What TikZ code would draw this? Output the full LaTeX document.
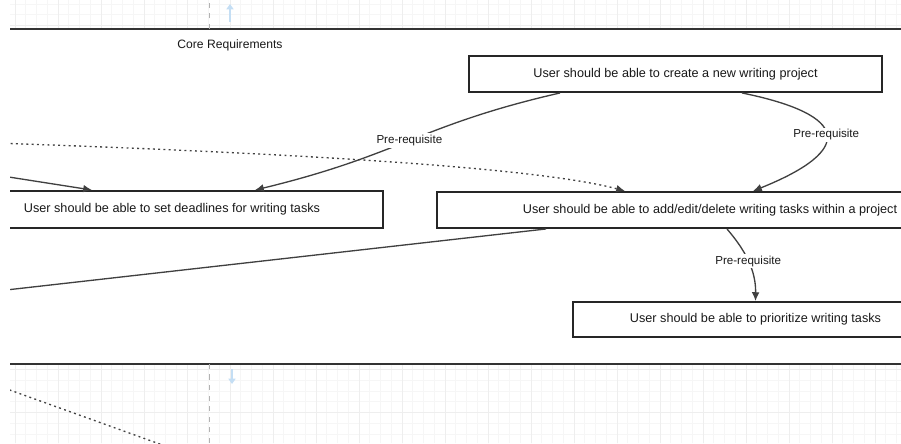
\documentclass[tikz,border=0pt]{standalone}
\usepackage{fontspec}
\setmainfont{Liberation Sans}
\usetikzlibrary{arrows.meta}
\definecolor{guideblue}{RGB}{196,222,244}

\begin{document}
\begin{tikzpicture}[
				>={Latex[length=5pt,width=4.4pt]},
				req/.style={
					rectangle,
					draw=black!85,
					line width=1.1pt,
					fill=white,
					align=center,
					minimum height=0.72cm,
					inner sep=0pt,
					text=black!90,
					font=\fontsize{7.2}{8.6}\selectfont
				},
				link/.style={
					->,
					draw=black!75,
					line width=0.75pt
				},
				dotlink/.style={
					link,
					dash pattern=on 1.1pt off 1.9pt
				},
				tag/.style={
					fill=white,
					inner sep=1pt,
					text=black!90,
					font=\fontsize{6.6}{8}\selectfont
				},
				lane/.style={
					draw=black!80,
					line width=1.3pt
				},
				gridfine/.style={
					draw=gray!7,
					line width=0.35pt
				},
				gridmajor/.style={
					draw=gray!13,
					line width=0.45pt
				}
				]
				
				\useasboundingbox (0,0) rectangle (18.02,8.86);
				\begin{scope}
				\clip (0.2,0) rectangle (18.02,8.86);
				
				% -------------------------------------------------------------------------
				% Canvas grid, lane and guides
				% -------------------------------------------------------------------------
				
				\begin{scope}
				\clip (0.2,0) rectangle (18.02,1.58) (0.2,8.28) rectangle (18.02,8.86);
				\draw[gridfine,step=0.215cm,shift={(0.3,0.61)}] (-1,-1) grid (18.5,9.2);
				\draw[gridmajor,step=0.86cm,shift={(0.3,0.61)}] (-1,-1) grid (18.5,9.2);
				\end{scope}
				
				\fill[white] (0.2,1.58) rectangle (18.02,8.28);
				\draw[lane] (0.2,8.28) -- (18.02,8.28);
				\draw[lane] (0.2,1.58) -- (18.02,1.58);
				
				\draw[gray!60,dashed,line width=0.4pt] (4.18,8.28) -- (4.18,8.86);
				\draw[gray!60,dashed,line width=0.4pt] (4.18,0) -- (4.18,1.58);
				\draw[-{Triangle[width=4pt,length=3pt]},guideblue,line width=1.2pt] (4.6,8.42) -- (4.6,8.78);
				\draw[-{Triangle[width=4pt,length=3pt]},guideblue,line width=1.2pt] (4.64,1.48) -- (4.64,1.18);
				
				\node[text=black!90,font=\fontsize{6.9}{8}\selectfont] (CORE) at (4.6,7.96)
				{Core Requirements};
				
				% -------------------------------------------------------------------------
				% Requirement boxes
				% -------------------------------------------------------------------------
				
				\node[req,minimum width=8.26cm] (NEW) at (13.51,7.38)
				{User should be able to create a new writing project};
				
				\node[req,minimum width=8.44cm,minimum height=0.74cm] (DEAD) at (3.44,4.67)
				{User should be able to set deadlines for writing tasks};
				
				\node[req,minimum width=10.92cm] (TASK) at (14.2,4.66)
				{User should be able to add/edit/delete writing tasks within a project};
				
				\node[req,minimum width=7.3cm,minimum height=0.7cm] (PRIO) at (15.11,2.47)
				{User should be able to prioritize writing tasks};
				
				% -------------------------------------------------------------------------
				% Ends of links that leave the view
				% -------------------------------------------------------------------------
				
				\coordinate (offA) at (-2.0,6.06);
				\coordinate (offB) at (-2.0,5.66);
				\coordinate (offC) at (-2.0,2.82);
				\coordinate (offD) at (-1.0,1.49);
				\coordinate (offE) at (5.0,-0.67);
				
				% -------------------------------------------------------------------------
				% Pre-requisite links
				% -------------------------------------------------------------------------
				
				\draw[link] ([xshift=-2.31cm]NEW.south) .. controls (8.4,6.36) and (8.0,5.76) ..
				node[tag] (PRE1) {Pre-requisite} ([xshift=1.66cm]DEAD.north);
				
				\draw[link] ([xshift=1.33cm]NEW.south) .. controls (17.0,6.56) and (17.1,5.86) ..
				node[tag] (PRE2) {Pre-requisite} ([xshift=0.86cm]TASK.north);
				
				\draw[link] ([xshift=0.34cm]TASK.south) .. controls (14.9,3.86) and (15.12,3.46) ..
				node[tag] (PRE3) {Pre-requisite} (PRIO.north);
				
				% -------------------------------------------------------------------------
				% Other links
				% -------------------------------------------------------------------------
				
				\draw[dotlink] (offA) .. controls (6.0,5.82) and (10.8,5.5) .. ([xshift=-1.7cm]TASK.north);
				\draw[link] (offB) -- ([xshift=-1.6cm]DEAD.north);
				\draw[link,-] ([xshift=-3.28cm]TASK.south) -- (offC);
				\draw[dotlink,-] (offD) -- (offE);
				
				\end{scope}
				
		\end{tikzpicture}
\end{document}
